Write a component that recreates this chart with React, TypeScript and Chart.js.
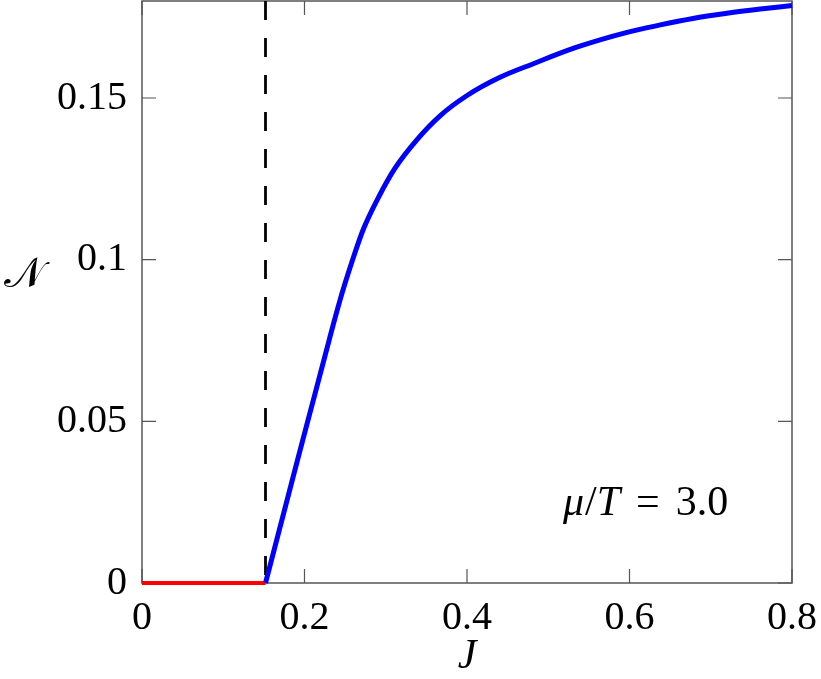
import React, { useEffect, useRef } from "react";
import { Chart, registerables } from "chart.js";
Chart.register(...registerables);

const criticalJ = 0.152;
const jValues = [0.152, 0.169, 0.1904, 0.2129, 0.2305, 0.2437, 0.2581, 0.2724, 0.2909, 0.3114, 0.338, 0.3668, 0.3996, 0.4406, 0.4816, 0.535, 0.597, 0.638, 0.678, 0.72, 0.761, 0.8];
const nValues = [0, 0.0164, 0.0371, 0.0585, 0.0753, 0.0875, 0.0991, 0.1094, 0.1192, 0.1283, 0.1370, 0.1445, 0.1507, 0.1564, 0.1606, 0.1657, 0.1703, 0.1726, 0.1746, 0.1762, 0.1775, 0.1786];
const xTicks = [0, 0.2, 0.4, 0.6, 0.8];
const yTicks = [0, 0.05, 0.1, 0.15];
const xMin = 0, xMax = 0.8, yMin = 0, yMax = 0.18;
const xLabel = "J";
const yLabel = "\u{1D4A9}";

const FONT = "'Liberation Serif', serif";

const framePlugin = {
  id: "frame",
  beforeDatasetsDraw(chart: any) {
    const { ctx, chartArea, scales } = chart;
    const { left, right, top, bottom } = chartArea;
    ctx.save();
    ctx.strokeStyle = "#555";
    ctx.lineWidth = 1.5;
    ctx.strokeRect(left, top, right - left, bottom - top);
    ctx.lineWidth = 1.2;
    const tl = 14;
    ctx.beginPath();
    for (const v of xTicks) {
      const px = scales.x.getPixelForValue(v);
      ctx.moveTo(px, bottom); ctx.lineTo(px, bottom - tl);
      ctx.moveTo(px, top); ctx.lineTo(px, top + tl);
    }
    for (const v of yTicks) {
      const py = scales.y.getPixelForValue(v);
      ctx.moveTo(left, py); ctx.lineTo(left + tl, py);
      ctx.moveTo(right, py); ctx.lineTo(right - tl, py);
    }
    ctx.stroke();
    ctx.restore();
  },
  afterDraw(chart: any) {
    const { ctx, chartArea } = chart;
    ctx.save();
    ctx.fillStyle = "#000";
    ctx.textAlign = "center";
    ctx.textBaseline = "alphabetic";
    ctx.font = `italic 42px ${FONT}`;
    ctx.fillText(xLabel, (chartArea.left + chartArea.right) / 2, 668);
    ctx.font = `42px 'DejaVu Serif', ${FONT}`;
    ctx.fillText(yLabel, 24, 287);
    const parts: [string, string, number][] = [
      ["italic", "\u03bc", 1], ["normal", "/", 0], ["italic", "T", 16], ["normal", "=", 16], ["normal", "3.0", 0],
    ];
    let x = 563;
    const y = 515;
    ctx.textAlign = "left";
    for (const [st, t, gap] of parts) {
      ctx.font = `${st} 42px ${FONT}`;
      ctx.fillText(t, x, y);
      x += ctx.measureText(t).width + gap;
    }
    ctx.restore();
  },
};

export default function App() {
  const ref = useRef<HTMLCanvasElement>(null);
  useEffect(() => {
    document.body.style.margin = "0";
    const curve = jValues.map((j, i) => ({ x: j, y: nValues[i] }));
    const chart = new Chart(ref.current!, {
      type: "scatter",
      data: {
        datasets: [
          { data: curve, showLine: true, borderColor: "#0000ff", borderWidth: 5, pointRadius: 0, cubicInterpolationMode: "monotone", clip: false } as any,
          { data: [{ x: xMin, y: 0 }, { x: criticalJ, y: 0 }], showLine: true, borderColor: "#ff0000", borderWidth: 4, pointRadius: 0, clip: false } as any,
          { data: [{ x: criticalJ, y: yMax }, { x: criticalJ, y: yMin }], showLine: true, borderColor: "#000", borderWidth: 2.8, borderDash: [19, 18], pointRadius: 0, clip: false } as any,
        ],
      },
      options: {
        animation: false,
        responsive: false,
        events: [],
        layout: { padding: { left: 0, top: 1, right: 29, bottom: 0 } },
        plugins: { legend: { display: false }, tooltip: { enabled: false } },
        scales: {
          x: {
            type: "linear", min: xMin, max: xMax,
            afterBuildTicks: (s: any) => { s.ticks = xTicks.map((v) => ({ value: v })); },
            afterFit: (s: any) => { s.height = 96; s.paddingLeft = 0; s.paddingRight = 0; },
            grid: { display: true, drawOnChartArea: false, drawTicks: false },
            border: { display: false },
            ticks: { color: "#000", font: { family: FONT, size: 40 }, padding: 11, maxRotation: 0, callback: (v: any) => String(v) },
          },
          y: {
            type: "linear", min: yMin, max: yMax,
            afterBuildTicks: (s: any) => { s.ticks = yTicks.map((v) => ({ value: v })); },
            afterFit: (s: any) => { s.width = 142; s.paddingTop = 0; s.paddingBottom = 0; },
            grid: { display: true, drawOnChartArea: false, drawTicks: false },
            border: { display: false },
            ticks: { color: "#000", font: { family: FONT, size: 40 }, padding: 15, callback: (v: any) => String(v) },
          },
        },
      },
      plugins: [framePlugin],
    });
    return () => chart.destroy();
  }, []);
  return (
    <div style={{ position: "absolute", left: 0, top: 0, width: 821, height: 679 }}>
      <canvas ref={ref} width={821} height={679} style={{ width: 821, height: 679 }} />
    </div>
  );
}
